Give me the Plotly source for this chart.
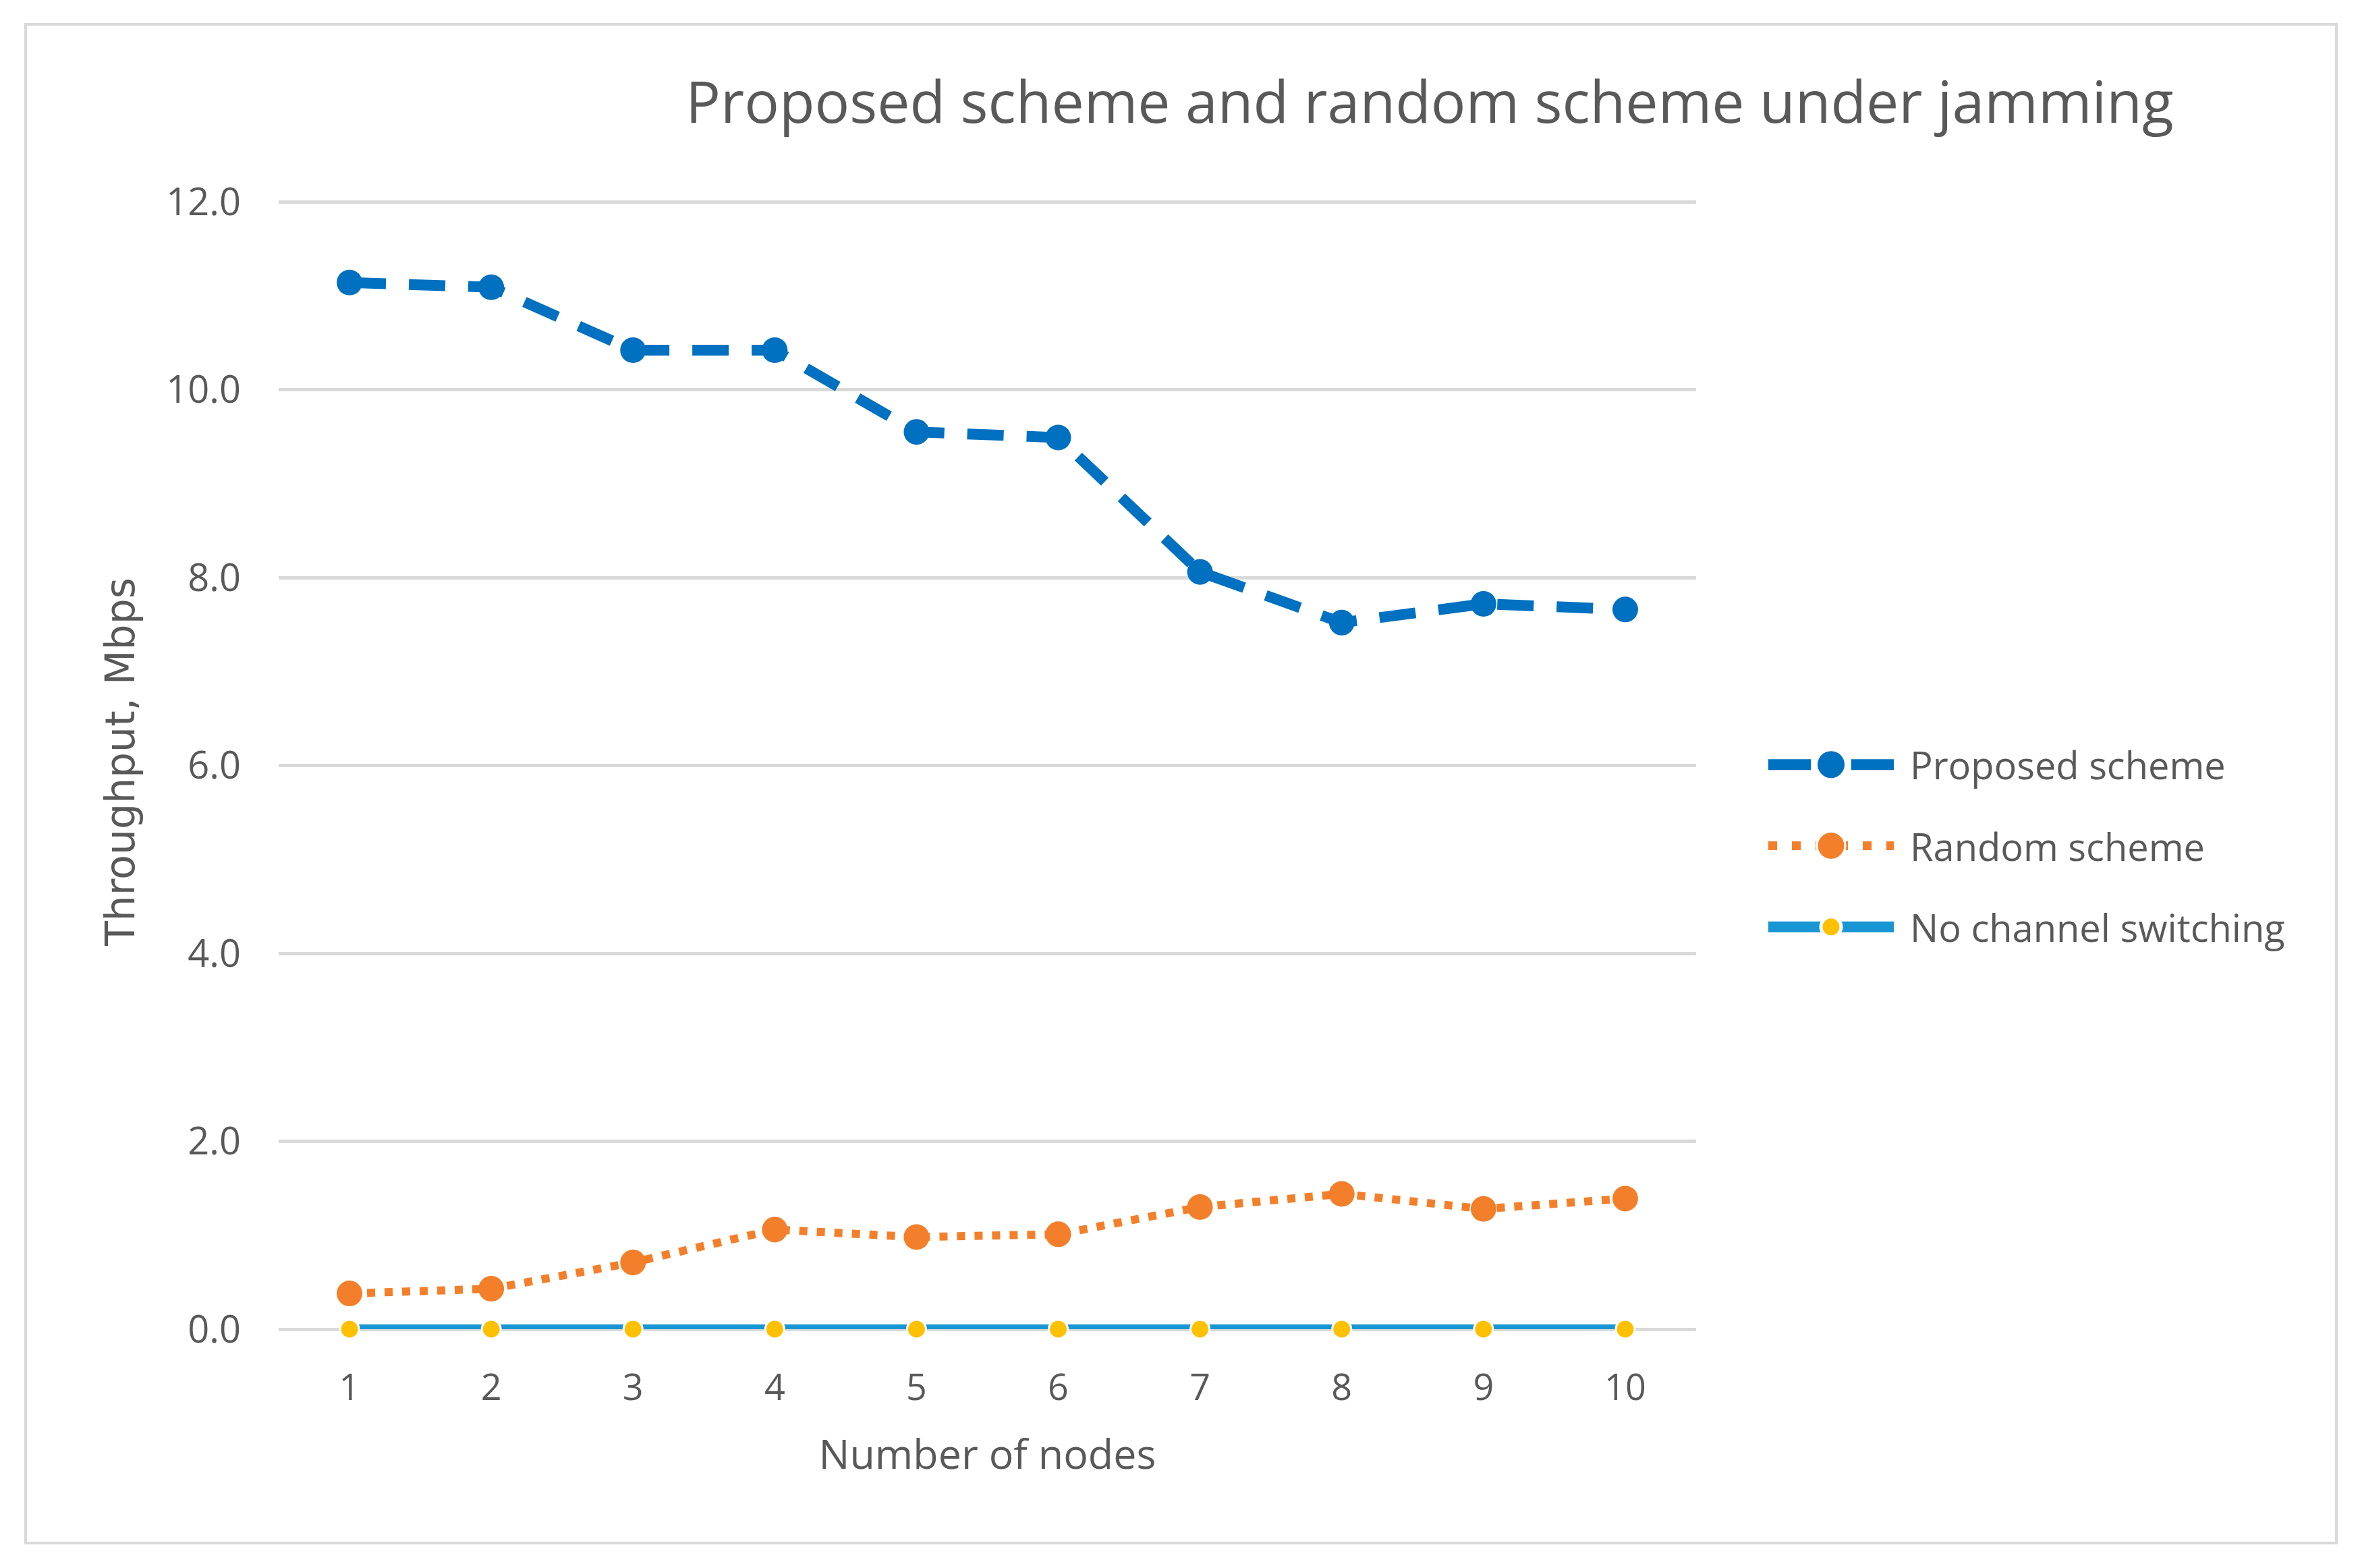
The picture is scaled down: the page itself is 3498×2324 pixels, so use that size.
import plotly.graph_objects as go

nodes = [1, 2, 3, 4, 5, 6, 7, 8, 9, 10]
proposed = [11.14, 11.09, 10.42, 10.42, 9.55, 9.49, 8.06, 7.52, 7.72, 7.66]
random_scheme = [0.38, 0.43, 0.71, 1.06, 0.98, 1.01, 1.30, 1.44, 1.28, 1.39]
no_switch = [0, 0, 0, 0, 0, 0, 0, 0, 0, 0]
y_ticks = [0, 2, 4, 6, 8, 10, 12]
y_tick_labels = ["0.0", "2.0", "4.0", "6.0", "8.0", "10.0", "12.0"]
series_names = ["Proposed scheme", "Random scheme", "No channel switching"]

W, H = 3498, 2324
OFF = 8  # page body margin
TXT = "#595959"
FONT = "Open Sans"
BLUE, ORANGE, LBLUE, YELLOW = "#0070C0", "#F47F2A", "#1796D3", "#FFC000"
Y_TOP = 12.08  # small headroom so the 12.0 gridline is drawn


def fx(px):
    return (px - OFF) / W


def fy(px):
    return 1 - (px - OFF) / H


plot_top_px = 299 - (Y_TOP - 12) * (1970 - 299) / 12

fig = go.Figure()
fig.add_trace(go.Scatter(
    x=nodes, y=proposed, name=series_names[0], mode="lines+markers",
    line=dict(color=BLUE, width=16, dash="54px,34px"),
    marker=dict(color=BLUE, size=38, symbol="circle"), cliponaxis=False))
fig.add_trace(go.Scatter(
    x=nodes, y=random_scheme, name=series_names[1], mode="lines+markers",
    line=dict(color=ORANGE, width=12, dash="12px,14px"),
    marker=dict(color=ORANGE, size=38, symbol="circle"), cliponaxis=False))
fig.add_trace(go.Scatter(
    x=nodes, y=no_switch, name=series_names[2], mode="lines+markers",
    line=dict(color=LBLUE, width=14),
    marker=dict(color=YELLOW, size=28, symbol="circle",
                line=dict(color="white", width=3)), cliponaxis=False))

# legend glyphs drawn on a small helper axis (rows 0, 1, 2)
fig.add_trace(go.Scatter(
    x=[0, 0.34, None, 0.66, 1], y=[0, 0, None, 0, 0], mode="lines",
    line=dict(color=BLUE, width=16), xaxis="x2", yaxis="y2",
    showlegend=False, hoverinfo="skip", cliponaxis=False))
fig.add_trace(go.Scatter(
    x=[0.5], y=[0], mode="markers", marker=dict(color=BLUE, size=40),
    xaxis="x2", yaxis="y2", showlegend=False, hoverinfo="skip",
    cliponaxis=False))
fig.add_trace(go.Scatter(
    x=[0, 1], y=[1, 1], mode="lines",
    line=dict(color=ORANGE, width=13, dash="13px,22px"),
    xaxis="x2", yaxis="y2", showlegend=False, hoverinfo="skip",
    cliponaxis=False))
fig.add_trace(go.Scatter(
    x=[0.5], y=[1], mode="markers",
    marker=dict(color=ORANGE, size=42, line=dict(color="white", width=3)),
    xaxis="x2", yaxis="y2", showlegend=False, hoverinfo="skip",
    cliponaxis=False))
fig.add_trace(go.Scatter(
    x=[0, 1.03], y=[2, 2], mode="lines",
    line=dict(color=LBLUE, width=16),
    xaxis="x2", yaxis="y2", showlegend=False, hoverinfo="skip",
    cliponaxis=False))
fig.add_trace(go.Scatter(
    x=[0.5], y=[2], mode="markers",
    marker=dict(color=YELLOW, size=30, line=dict(color="white", width=5)),
    xaxis="x2", yaxis="y2", showlegend=False, hoverinfo="skip",
    cliponaxis=False))

annotations = []
for i, nm in enumerate(series_names):
    annotations.append(dict(
        text=nm, x=fx(2829), y=i, xref="paper", yref="y2", xanchor="left",
        yanchor="middle", showarrow=False,
        font=dict(family=FONT, size=56, color=TXT)))

fig.update_layout(
    width=W, height=H,
    margin=dict(l=0, r=0, t=0, b=0, autoexpand=False),
    paper_bgcolor="white", plot_bgcolor="white",
    font=dict(family=FONT, color=TXT, size=52),
    showlegend=False,
    title=dict(text="Proposed scheme and random scheme under jamming",
               x=fx(2119), xref="paper", xanchor="center",
               y=fy(152), yref="paper", yanchor="middle",
               font=dict(family=FONT, size=86, color=TXT)),
    annotations=annotations,
    shapes=[dict(type="rect", xref="paper", yref="paper",
                 x0=fx(38), x1=fx(3463), y0=fy(2287), y1=fy(36),
                 line=dict(color="#D9D9D9", width=4), layer="below")],
    xaxis=dict(
        domain=[fx(413), fx(2514)],
        range=[0.5, 10.5], tickvals=nodes, ticktext=[str(n) for n in nodes],
        showgrid=False, zeroline=False, showline=False, ticks="",
        tickfont=dict(family=FONT, size=54, color=TXT), ticklabelstandoff=50,
        automargin=False,
        title=dict(text="Number of nodes", standoff=44,
                   font=dict(family=FONT, size=61, color=TXT))),
    yaxis=dict(
        domain=[fy(1970), fy(plot_top_px)],
        range=[0, Y_TOP], tickvals=y_ticks, ticktext=y_tick_labels,
        showgrid=True, gridcolor="#D9D9D9", gridwidth=5,
        zeroline=True, zerolinecolor="#D9D9D9", zerolinewidth=5,
        showline=False, ticks="", automargin=False,
        tickfont=dict(family=FONT, size=56, color=TXT), ticklabelstandoff=55,
        title=dict(text="Throughput, Mbps", standoff=27,
                   font=dict(family="DejaVu Sans", size=60, color=TXT))),
    xaxis2=dict(domain=[fx(2621), fx(2807)], range=[0, 1], visible=False,
                fixedrange=True, anchor="y2"),
    yaxis2=dict(domain=[fy(1434), fy(1073)], range=[2.5, -0.5], visible=False,
                fixedrange=True, anchor="x2"),
)

fig.write_html("out.html")
